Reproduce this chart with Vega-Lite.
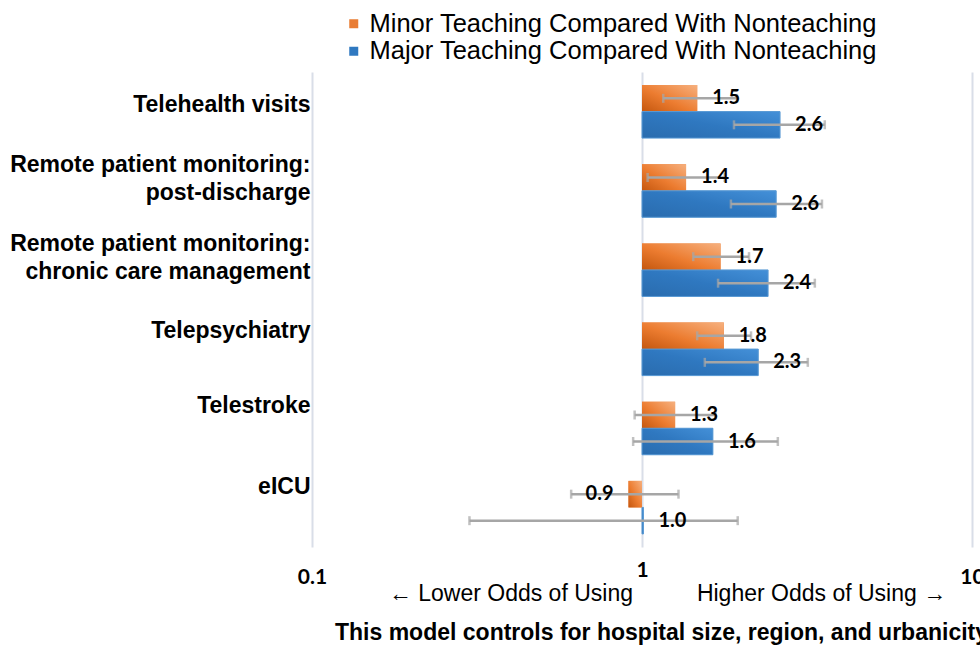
{
  "$schema": "https://vega.github.io/schema/vega-lite/v6.json",
  "autosize": {"type": "none"},
  "width": 660,
  "height": 475,
  "padding": {"left": 312, "top": 72, "right": 8, "bottom": 98},
  "background": "white",
  "title": {
    "text": "This model controls for hospital size, region, and urbanicity",
    "orient": "bottom",
    "anchor": "start",
    "frame": "group",
    "dx": 23,
    "offset": 17,
    "font": "Liberation Sans",
    "fontSize": 23,
    "fontWeight": "bold",
    "color": "#000000"
  },
  "config": {
    "view": {"stroke": null},
    "legend": {"padding": 0}
  },
  "data": {
    "values": [
      {"cat": "Telehealth visits", "series": "Minor Teaching Compared With Nonteaching", "or": 1.47, "lo": 1.16, "hi": 1.94, "label": "1.5"},
      {"cat": "Telehealth visits", "series": "Major Teaching Compared With Nonteaching", "or": 2.62, "lo": 1.90, "hi": 3.58, "label": "2.6"},
      {"cat": "Remote patient monitoring:|post-discharge", "series": "Minor Teaching Compared With Nonteaching", "or": 1.36, "lo": 1.04, "hi": 1.78, "label": "1.4"},
      {"cat": "Remote patient monitoring:|post-discharge", "series": "Major Teaching Compared With Nonteaching", "or": 2.55, "lo": 1.86, "hi": 3.51, "label": "2.6"},
      {"cat": "Remote patient monitoring:|chronic care management", "series": "Minor Teaching Compared With Nonteaching", "or": 1.73, "lo": 1.43, "hi": 2.11, "label": "1.7"},
      {"cat": "Remote patient monitoring:|chronic care management", "series": "Major Teaching Compared With Nonteaching", "or": 2.41, "lo": 1.70, "hi": 3.34, "label": "2.4"},
      {"cat": "Telepsychiatry", "series": "Minor Teaching Compared With Nonteaching", "or": 1.77, "lo": 1.47, "hi": 2.14, "label": "1.8"},
      {"cat": "Telepsychiatry", "series": "Major Teaching Compared With Nonteaching", "or": 2.25, "lo": 1.55, "hi": 3.18, "label": "2.3"},
      {"cat": "Telestroke", "series": "Minor Teaching Compared With Nonteaching", "or": 1.26, "lo": 0.95, "hi": 1.67, "label": "1.3"},
      {"cat": "Telestroke", "series": "Major Teaching Compared With Nonteaching", "or": 1.64, "lo": 0.94, "hi": 2.58, "label": "1.6"},
      {"cat": "eICU", "series": "Minor Teaching Compared With Nonteaching", "or": 0.91, "lo": 0.61, "hi": 1.29, "label": "0.9"},
      {"cat": "eICU", "series": "Major Teaching Compared With Nonteaching", "or": 1.01, "lo": 0.30, "hi": 1.95, "label": "1.0"}
    ]
  },
  "encoding": {
    "y": {
      "field": "cat",
      "type": "nominal",
      "sort": null,
      "scale": {"paddingInner": 0.33, "paddingOuter": 0.165},
      "axis": {
        "title": null,
        "ticks": false,
        "domain": false,
        "grid": false,
        "labelFont": "Liberation Sans",
        "labelFontWeight": "bold",
        "labelFontSize": 23,
        "labelColor": "#000000",
        "labelPadding": 2,
        "labelLineHeight": 28,
        "labelLimit": 400,
        "labelExpr": "split(datum.label, '|')",
        "labelOffset": {
          "condition": [
            {"test": "datum.value === 'Telehealth visits'", "value": -7},
            {"test": "datum.value === 'Remote patient monitoring:|post-discharge'", "value": -26},
            {"test": "datum.value === 'Remote patient monitoring:|chronic care management'", "value": -26},
            {"test": "datum.value === 'Telepsychiatry'", "value": -18},
            {"test": "datum.value === 'Telestroke'", "value": -22}
          ],
          "value": -20
        }
      }
    },
    "yOffset": {
      "field": "series",
      "type": "nominal",
      "scale": {"domain": ["Minor Teaching Compared With Nonteaching", "Major Teaching Compared With Nonteaching"], "paddingInner": 0, "paddingOuter": 0}
    }
  },
  "layer": [
    {
      "mark": {"type": "bar"},
      "encoding": {
        "x": {
          "field": "or",
          "type": "quantitative",
          "scale": {"type": "log", "domain": [0.1, 10], "nice": false},
          "axis": {
            "values": [0.1, 1, 10],
            "labelExpr": "datum.value < 0.5 ? '0.1' : datum.value < 5 ? '1' : '10'",
            "labelFlush": false,
            "labelOverlap": false,
            "grid": true,
            "gridColor": "#D9DEE8",
            "gridWidth": 2,
            "domain": false,
            "ticks": false,
            "labelFont": "Lato",
            "labelFontWeight": "bold",
            "labelFontSize": 21,
            "labelColor": "#000000",
            "labelBaseline": "middle",
            "labelPadding": {"condition": {"test": "datum.value > 0.5 && datum.value < 5", "value": 23}, "value": 30},
            "title": "← Lower Odds of Using\u00a0\u00a0\u00a0\u00a0\u00a0\u00a0\u00a0\u00a0\u00a0\u00a0Higher Odds of Using →",
            "titleFont": "Liberation Sans",
            "titleFontWeight": "normal",
            "titleFontSize": 23,
            "titleColor": "#000000",
            "titleBaseline": "middle",
            "titleX": 355,
            "titleY": 46
          }
        },
        "x2": {"datum": 1},
        "color": {
          "field": "series",
          "type": "nominal",
          "scale": {"domain": ["Minor Teaching Compared With Nonteaching", "Major Teaching Compared With Nonteaching"], "range": ["#E97C33", "#2F78C0"]},
          "legend": {
            "title": null,
            "orient": "none",
            "legendX": 29,
            "legendY": -61,
            "symbolType": "square",
            "symbolSize": 81,
            "symbolStrokeWidth": 0,
            "labelFont": "Liberation Sans",
            "labelFontSize": 25.5,
            "labelColor": "#000000",
            "labelOffset": 3,
            "rowPadding": 0.5,
            "labelLimit": 700
          }
        }
      }
    },
    {
      "transform": [{"filter": "datum.series === 'Minor Teaching Compared With Nonteaching'"}],
      "mark": {
        "type": "bar",
        "fill": {"gradient": "linear", "x1": 0, "y1": 1, "x2": 1, "y2": 0, "stops": [{"offset": 0, "color": "#C4570F"}, {"offset": 0.45, "color": "#EC7C30"}, {"offset": 1, "color": "#F6B07E"}]}
      },
      "encoding": {
        "x": {"field": "or", "type": "quantitative"},
        "x2": {"datum": 1}
      }
    },
    {
      "transform": [{"filter": "datum.series === 'Major Teaching Compared With Nonteaching'"}],
      "mark": {
        "type": "bar",
        "fill": {"gradient": "linear", "x1": 0, "y1": 1, "x2": 1, "y2": 0, "stops": [{"offset": 0, "color": "#2A6CAE"}, {"offset": 0.5, "color": "#2F78C0"}, {"offset": 1, "color": "#4490D8"}]},
        "stroke": "#5B9BD5",
        "strokeWidth": 1
      },
      "encoding": {
        "x": {"field": "or", "type": "quantitative"},
        "x2": {"datum": 1}
      }
    },
    {
      "mark": {"type": "rule", "color": "#A6A6A6", "strokeWidth": 2.5},
      "encoding": {
        "x": {"field": "lo", "type": "quantitative"},
        "x2": {"field": "hi"}
      }
    },
    {
      "mark": {"type": "tick", "color": "#A6A6A6", "thickness": 2.5, "size": 9, "orient": "vertical"},
      "encoding": {"x": {"field": "lo", "type": "quantitative"}}
    },
    {
      "mark": {"type": "tick", "color": "#A6A6A6", "thickness": 2.5, "size": 9, "orient": "vertical"},
      "encoding": {"x": {"field": "hi", "type": "quantitative"}}
    },
    {
      "transform": [{"filter": "datum.or >= 1"}],
      "mark": {"type": "text", "align": "left", "baseline": "middle", "dx": 15, "font": "Lato", "fontWeight": "bold", "fontSize": 20, "color": "#000000"},
      "encoding": {
        "x": {"field": "or", "type": "quantitative"},
        "text": {"field": "label"}
      }
    },
    {
      "transform": [{"filter": "datum.or < 1"}],
      "mark": {"type": "text", "align": "right", "baseline": "middle", "dx": -15, "font": "Lato", "fontWeight": "bold", "fontSize": 20, "color": "#000000"},
      "encoding": {
        "x": {"field": "or", "type": "quantitative"},
        "text": {"field": "label"}
      }
    }
  ]
}
